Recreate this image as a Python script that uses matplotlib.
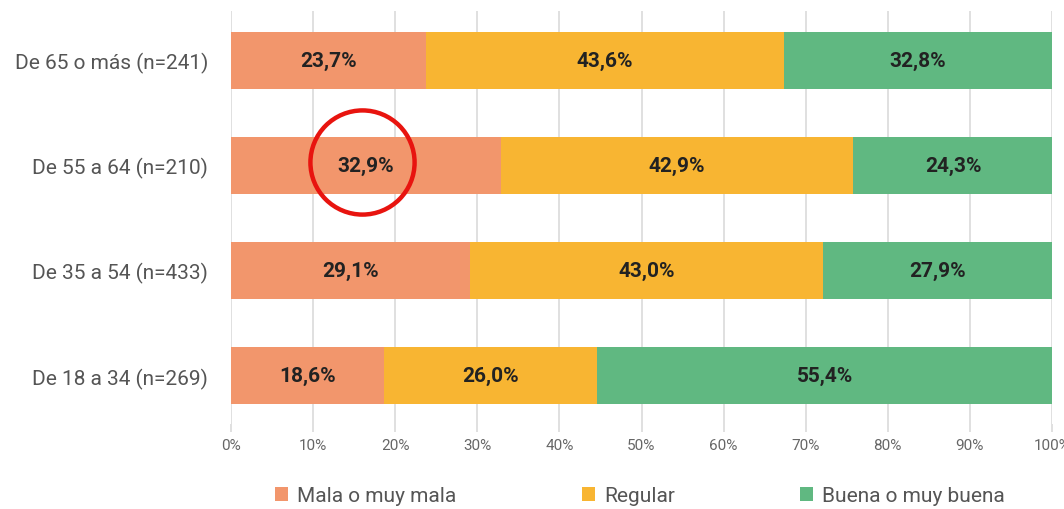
import matplotlib
matplotlib.use("Agg")
import matplotlib.pyplot as plt
from matplotlib.patches import Patch
import numpy as np

plt.rcParams['font.family'] = ['Roboto', 'DejaVu Sans']

categories = ["De 18 a 34 (n=269)", "De 35 a 54 (n=433)", "De 55 a 64 (n=210)", "De 65 o más (n=241)"]
series_names = ["Mala o muy mala", "Regular", "Buena o muy buena"]
mala = [18.6, 29.1, 32.9, 23.7]
regular = [26.0, 43.0, 42.9, 43.6]
buena = [55.4, 27.9, 24.3, 32.8]
colors = ["#F2966C", "#F8B532", "#60B881"]
xticks = list(range(0, 101, 10))
xtick_labels = [f"{t}%" for t in xticks]

fig = plt.figure(figsize=(10.64, 5.10), dpi=100)
ax = fig.add_axes([231/1064, 1-425/510, (1052-231)/1064, 413/510])

y = np.arange(len(categories))
left = np.zeros(len(categories))
for vals, col in zip([mala, regular, buena], colors):
    vals = np.array(vals)
    ax.barh(y, vals, left=left, height=0.54, color=col, zorder=2)
    for yi, l, v in zip(y, left, vals):
        ax.text(l + v/2, yi, f"{v:.1f}%".replace(".", ","), ha="center", va="center",
                fontsize=15, fontweight="bold", color="#222222", zorder=3)
    left = left + vals

ax.set_xlim(0, 100)
ax.set_ylim(-0.46, 3.47)
ax.set_xticks(xticks)
ax.set_xticklabels(xtick_labels, fontsize=11, color="#666666")
ax.set_yticks(y)
ax.set_yticklabels(categories, fontsize=15, color="#555555")
ax.tick_params(axis="y", length=0, pad=16.5)
ax.tick_params(axis="x", length=6, color="#dddddd", width=1.3, pad=4)
for s in ax.spines.values():
    s.set_visible(False)
ax.grid(axis="x", color="#dddddd", linewidth=1.3, zorder=0)
ax.set_axisbelow(True)

# red highlight circle around 32,9%
ax.plot([16.0], [2.03], marker="o", markersize=75, markerfacecolor="none",
        markeredgecolor="#E8140F", markeredgewidth=3.2, zorder=4, clip_on=False)

handles = [Patch(facecolor=c, edgecolor="none") for c in colors]
fig.legend(handles, series_names, loc="center", bbox_to_anchor=(640/1064, 1-497/510), ncol=3,
           frameon=False, fontsize=15, columnspacing=6.0, handlelength=0.62, handleheight=0.62,
           handletextpad=0.45, labelcolor="#555555")

fig.savefig("out.png", dpi=100)
